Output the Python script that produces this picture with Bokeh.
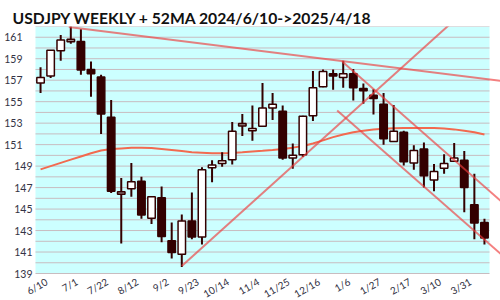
from bokeh.plotting import figure
from bokeh.models import Range1d, ColumnDataSource, Arrow, BoxAnnotation
from bokeh.core.properties import value
from bokeh.embed import file_html
from bokeh.resources import INLINE

# ---- data ----
dates = ["6/10", "6/17", "6/24", "7/1", "7/8", "7/15", "7/22", "7/29", "8/5", "8/12",
         "8/19", "8/26", "9/2", "9/9", "9/16", "9/23", "9/30", "10/7", "10/14", "10/21",
         "10/28", "11/4", "11/11", "11/18", "11/25", "12/2", "12/9", "12/16", "12/23", "12/30",
         "1/6", "1/13", "1/20", "1/27", "2/3", "2/10", "2/17", "2/24", "3/3", "3/10",
         "3/17", "3/24", "3/31", "4/7", "4/14"]
opens = [156.75, 157.4, 159.75, 160.7, 160.6, 158.0, 157.3, 153.55, 146.5, 146.9,
         147.6, 144.15, 146.05, 142.05, 140.8, 143.9, 142.4, 148.85, 149.25, 149.6,
         152.85, 152.3, 152.7, 154.4, 154.1, 149.75, 150.05, 153.7, 156.4, 157.6,
         157.25, 157.6, 156.2, 155.6, 154.75, 151.3, 152.15, 149.3, 150.6, 147.7,
         148.8, 149.45, 149.55, 145.4, 143.75]
highs = [158.2, 159.8, 161.2, 162.0, 161.75, 158.75, 157.5, 155.15, 147.9, 149.3,
         148.0, 146.2, 147.1, 143.75, 144.5, 146.55, 148.9, 149.55, 150.3, 153.1,
         153.85, 154.65, 156.75, 155.8, 154.65, 151.1, 153.7, 157.85, 158.0, 158.0,
         158.8, 158.05, 156.7, 156.15, 155.8, 154.7, 152.3, 150.95, 151.2, 149.2,
         150.1, 151.15, 150.4, 148.3, 144.1]
lows = [155.8, 157.2, 158.8, 160.4, 157.5, 155.45, 152.0, 146.5, 141.8, 146.15,
        144.1, 143.6, 141.9, 140.4, 139.6, 142.2, 141.7, 147.5, 148.95, 149.15,
        151.8, 151.35, 152.7, 153.3, 149.6, 148.75, 149.85, 153.2, 156.35, 156.1,
        156.3, 155.1, 154.8, 153.8, 151.0, 151.3, 149.05, 148.65, 147.0, 146.65,
        148.3, 149.45, 144.7, 142.2, 141.7]
closes = [157.25, 159.8, 160.75, 160.7, 157.95, 157.6, 153.85, 146.65, 146.5, 147.55,
          144.45, 146.15, 142.45, 140.95, 143.9, 142.4, 148.65, 149.1, 149.5, 152.25,
          152.85, 152.5, 154.4, 154.75, 149.75, 150.0, 153.65, 156.3, 157.8, 157.4,
          157.6, 156.3, 156.05, 155.3, 151.55, 152.25, 149.4, 150.45, 148.1, 148.5,
          149.25, 149.75, 147.0, 143.7, 142.3]
ma52 = [148.7, 149.0, 149.3, 149.6, 149.9, 150.2, 150.45, 150.6, 150.65, 150.7,
        150.7, 150.68, 150.6, 150.5, 150.4, 150.3, 150.25, 150.2, 150.2, 150.22,
        150.28, 150.35, 150.42, 150.5, 150.6, 150.72, 150.88, 151.1, 151.4, 151.7,
        151.95, 152.15, 152.3, 152.4, 152.47, 152.52, 152.54, 152.55, 152.55, 152.54,
        152.5, 152.42, 152.3, 152.15, 151.95]
# trend lines: (start week index, start price) -> (end week index, end price)
trend_x0 = [2.8, 14.0, 29.9, 29.4]
trend_y0 = [161.95, 139.7, 158.75, 154.18]
trend_x1 = [45.6, 45.0, 45.6, 45.6]
trend_y1 = [156.95, 165.96, 145.77, 140.84]

title = "USDJPY WEEKLY + 52MA 2024/6/10->2025/4/18"
y_min, y_max = 139, 162
y_labels = list(range(y_min, y_max, 2))
grid_levels = list(range(y_min, y_max + 1))
label_step = 3

# ---- layout (pixels) ----
W, H = 500, 300
PLOT_L, PLOT_R, PLOT_T, PLOT_B = 35, 489, 26, 273
n = len(dates)
px_week = (PLOT_R - PLOT_L) / n
px_unit = (PLOT_B - PLOT_T) / (y_max - y_min)
x_lo = -0.5 - PLOT_L / px_week
x_hi = n - 0.5 + (W - PLOT_R) / px_week
y_lo = y_min - (H - PLOT_B) / px_unit

# ---- derived ----
xs = list(range(n))
DARK = "#330000"
TXT = "#333344"
tops, bots, fills = [], [], []
for o, c in zip(opens, closes):
    t, b = max(o, c), min(o, c)
    if t - b < 0.22:
        m = (t + b) / 2
        t, b = m + 0.11, m - 0.11
    tops.append(t)
    bots.append(b)
    fills.append("white" if c > o else (DARK if c < o else "#a09090"))

src = ColumnDataSource(dict(x=xs, top=tops, bottom=bots, high=highs, low=lows, fill=fills))
tick_idx = list(range(0, n, label_step))
xlab = ColumnDataSource(dict(x=tick_idx, y=[y_min] * len(tick_idx),
                             text=[dates[i] for i in tick_idx]))
ylab = ColumnDataSource(dict(x=[-0.5] * len(y_labels), y=y_labels,
                             text=[str(v) for v in y_labels],
                             dx=[-13 if v > 150 else -3 for v in y_labels]))

p = figure(width=W, height=H, x_range=Range1d(x_lo, x_hi), y_range=Range1d(y_lo, y_max),
           output_backend="svg", toolbar_location=None,
           min_border_left=0, min_border_right=0, min_border_top=PLOT_T, min_border_bottom=0,
           background_fill_color="white", border_fill_color="white", outline_line_color=None)
p.xaxis.visible = False
p.yaxis.visible = False
p.grid.visible = False

p.title.text = title
p.title.text_font = "Lato"
p.title.text_font_size = "15.7px"
p.title.text_font_style = "bold"
p.title.text_color = "#111111"
p.title.offset = 12
p.title.standoff = 0

# cyan plotting area
p.add_layout(BoxAnnotation(left=-0.5, right=n - 0.5, bottom=y_min, top=y_max,
                           fill_color="#ccffff", fill_alpha=1.0, line_color=None,
                           level="underlay"))
# horizontal grid lines every 1 yen
p.segment(x0=[-0.5] * len(grid_levels), x1=[n - 0.5] * len(grid_levels),
          y0=grid_levels, y1=grid_levels, line_color="#c8bcc0", line_width=1)

# tick labels
p.text(x="x", y="y", text="text", source=ylab, x_offset="dx",
       text_align="right", text_baseline="middle",
       text_font=value("Lato"), text_font_size="10.5px", text_color=TXT)
p.text(x="x", y="y", text="text", source=xlab, angle=0.52,
       x_offset=3, y_offset=2, text_align="right", text_baseline="top",
       text_font=value("Lato"), text_font_size="10px", text_color=TXT)

p.line(xs, ma52, line_color="#f26a50", line_width=2)
p.segment(x0="x", y0="low", x1="x", y1="high", source=src, line_color=DARK, line_width=2)
p.vbar(x="x", width=0.74, top="top", bottom="bottom", source=src,
       fill_color="fill", line_color=DARK, line_width=1.5)

for x0, y0, x1, y1 in zip(trend_x0, trend_y0, trend_x1, trend_y1):
    p.add_layout(Arrow(end=None, x_start=x0, y_start=y0, x_end=x1, y_end=y1,
                       line_color="#ee3c3c", line_alpha=0.65, line_width=2))

open("out.html", "w").write(file_html(p, INLINE))
